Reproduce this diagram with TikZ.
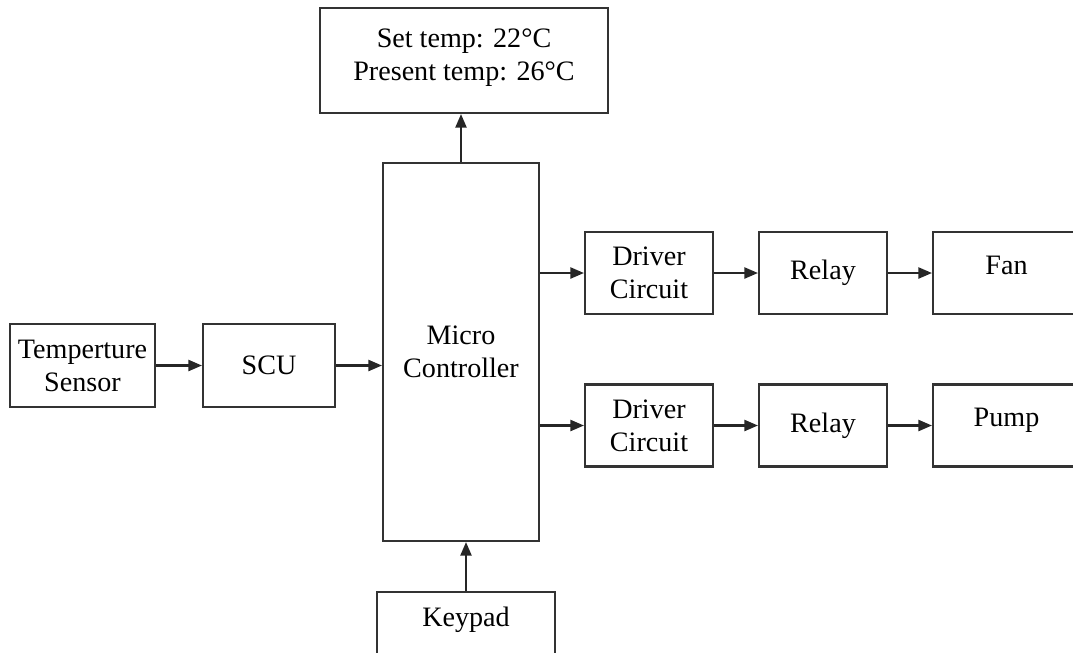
\documentclass[tikz,border=0pt]{standalone}
\usepackage{fontspec}
\setmainfont{Liberation Serif}
\usetikzlibrary{positioning, arrows.meta, calc}

\begin{document}
\begin{tikzpicture}[font=\fontsize{16}{18.7}\selectfont]
    \tikzset{
        block/.style={rectangle, draw=black!80, line width=1.2pt, fill=white,
            inner sep=2pt, align=center, minimum width=2.56cm,
            minimum height=1.64cm},
        stream/.style={line width=1.2pt, draw=black!85,
            -{Triangle[length=2.7mm, width=2.2mm]}}
    }
    \useasboundingbox (0,0) rectangle (21.46,-13.04);
    \clip (0,0) rectangle (21.46,-13.04);
    \node[block, minimum width=5.76cm, minimum height=2.1cm, text depth=7pt] (display)
        at (9.28,-1.21) {Set temp: 22°C\\Present temp: 26°C};
    \node[block, minimum width=3.12cm, minimum height=7.56cm] (micro) at (9.22,-7.04)
        {Micro\\Controller};
    \node[block, minimum width=2.9cm, minimum height=1.66cm] (sensor) at (1.65,-7.31)
        {Temperture\\Sensor};
    \node[block, minimum width=2.64cm, minimum height=1.66cm] (scu) at (5.38,-7.31) {SCU};
    \node[block] (driverA) at (12.98,-5.46) {Driver\\Circuit};
    \node[block] (relayA) at (16.46,-5.46) {Relay};
    \node[block, minimum width=2.94cm, text depth=9pt] (fan) at (20.13,-5.46) {Fan};
    \node[block] (driverB) at (12.98,-8.51) {Driver\\Circuit};
    \node[block] (relayB) at (16.46,-8.51) {Relay};
    \node[block, minimum width=2.94cm, text depth=9pt] (pump) at (20.13,-8.51) {Pump};
    \node[block, anchor=north, minimum width=3.56cm, minimum height=1.42cm,
        text depth=12.5pt] (keypad) at (9.32,-11.82) {Keypad};
    \draw[stream] (sensor) -- (scu);
    \draw[stream] (scu.east) -- (scu.east -| micro.west);
    \draw[stream] (micro.north) -- (micro.north |- display.south);
    \draw[stream] (keypad.north) -- (keypad.north |- micro.south);
    \draw[stream] (driverA.west -| micro.east) -- (driverA.west);
    \draw[stream] (driverA) -- (relayA);
    \draw[stream] (relayA) -- (fan);
    \draw[stream] (driverB.west -| micro.east) -- (driverB.west);
    \draw[stream] (driverB) -- (relayB);
    \draw[stream] (relayB) -- (pump);
\end{tikzpicture}
\end{document}
